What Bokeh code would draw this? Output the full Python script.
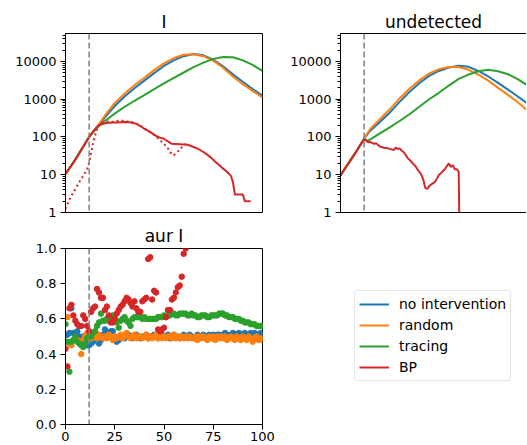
import numpy as np
from bokeh.plotting import figure
from bokeh.layouts import column, row
from bokeh.models import (FixedTicker, PrintfTickFormatter, Span, Legend, LegendItem,
                          LinearAxis, Range1d)
from bokeh.embed import file_html
from bokeh.resources import INLINE

FONT = "DejaVu Sans"
COLORS = ["#1f77b4", "#ff7f0e", "#2ca02c", "#d62728"]
NAMES = ["no intervention", "random", "tracing", "BP"]
INTERVENTION_T = 12

# ---------------- panel "I" ----------------
I_t = [0, 4, 8, 12, 16, 20, 25, 30, 35, 40, 45, 50, 55, 60, 65, 70, 75, 80, 85, 90, 95, 100]
I_none = [10.5, 21, 46, 100, 182, 330, 660, 1180, 1950, 3100, 4900, 7600, 10700, 13800,
          15800, 14500, 11200, 7400, 4600, 2900, 1860, 1250]
I_random = [10.5, 21, 46, 100, 186, 370, 800, 1400, 2350, 3700, 5900, 8900, 12300, 15100,
            15500, 13800, 10500, 6800, 4000, 2500, 1660, 1120]
I_tracing = [10.5, 21, 46, 100, 175, 265, 415, 630, 910, 1290, 1860, 2630, 3700, 5100,
             7100, 9300, 11700, 13200, 12900, 10700, 8100, 5600]
I_bp_t = [0, 2, 4, 6, 8, 10, 12, 14, 16, 18, 20, 22, 24, 26, 28, 30, 32, 34, 36, 38, 40,
          42, 44, 46, 48, 50, 52, 54, 56, 58, 60, 62, 64, 66, 68, 70, 72, 74, 76, 78, 80,
          82, 84, 85, 86, 90, 91, 94]
I_bp = [10.5, 15, 21, 30, 45, 67, 100, 140, 185, 215, 232, 238, 240, 242, 246, 250, 246,
        238, 222, 195, 165, 145, 125, 106, 96, 90, 76, 66, 65, 64, 63, 62, 57, 52, 46, 40,
        34, 28, 22, 18, 14.5, 12, 9.3, 6.3, 3, 3, 2, 2]
I_bp_dot_t = [0, 2, 4, 6, 8, 10, 11, 12, 13, 14, 15, 16, 17, 18, 20, 22, 24, 26, 28, 30,
              32, 34, 36, 38, 40, 42, 44, 46, 48, 50, 52, 54, 55, 56, 58, 60, 61]
I_bp_dot = [1.25, 2.2, 3.4, 5.2, 7.8, 11.5, 14, 21, 38, 68, 110, 160, 205, 240, 255, 258,
            252, 265, 275, 262, 255, 245, 225, 198, 170, 148, 125, 102, 82, 66, 50, 34, 33,
            37, 46, 60, 66]

# ---------------- panel "undetected" ----------------
U_t = [0, 4, 8, 12, 15, 20, 25, 30, 35, 40, 45, 50, 55, 60, 65, 70, 75, 80, 85, 90, 95, 100]
U_none = [9.6, 20, 42, 90, 145, 250, 440, 850, 1550, 2650, 4150, 5600, 6900, 7750, 7200,
          5600, 4000, 2700, 1800, 1180, 760, 500]
U_random = [9.6, 20, 42, 90, 160, 295, 540, 1050, 1900, 3150, 4800, 6200, 7100, 7100, 6000,
            4500, 3100, 2000, 1300, 830, 500, 316]
U_tr_t = [0, 4, 8, 12, 14, 16, 20, 25, 30, 35, 40, 45, 50, 55, 60, 65, 70, 75, 80, 85, 90,
          95, 100]
U_tracing = [9.6, 20, 42, 88, 80, 92, 125, 180, 265, 400, 630, 1000, 1480, 2300, 3450, 4500,
             5500, 6000, 5500, 4600, 3400, 2300, 1400]
U_bp_t = [0, 2, 4, 6, 8, 10, 11, 12, 13, 14, 15, 16, 17, 18, 19, 20, 22, 24, 26, 27, 28, 29,
          30, 31, 32, 33, 34, 35, 36, 37, 38, 39, 40, 41, 42, 43, 44, 45, 46, 47, 48, 49, 50,
          51, 52, 53, 54, 55, 56, 57, 58, 59, 60, 61]
U_bp = [9.6, 14, 20, 28, 40, 60, 72, 88, 80, 72, 74, 70, 66, 68, 62, 56, 52, 50, 47, 45, 52,
        48, 50, 44, 40, 34, 28, 25, 22, 19, 17, 14, 12, 10, 7.5, 4.5, 4.2, 5, 5.5, 6, 6.5, 8,
        10, 11, 12.5, 14, 17, 20, 16, 18, 14, 14, 12, 0]

# ---------------- panel "aur I" ----------------
A_t = list(range(0, 101))
A_none = [0.51, 0.51, 0.52, 0.66, 0.52, 0.51, 0.53, 0.50, 0.49, 0.50,
          0.47, 0.45, 0.45, 0.46, 0.47, 0.50, 0.49, 0.46, 0.48, 0.51,
          0.54, 0.52, 0.50, 0.53, 0.53, 0.48, 0.47, 0.48, 0.49, 0.50,
          0.49, 0.50, 0.51, 0.50, 0.49, 0.50, 0.51, 0.50, 0.49, 0.50,
          0.50, 0.51, 0.49, 0.50, 0.50, 0.51, 0.50, 0.49, 0.50, 0.51,
          0.50, 0.50, 0.51, 0.49, 0.50, 0.51, 0.50, 0.50, 0.49, 0.50,
          0.51, 0.50, 0.50, 0.51, 0.50, 0.49, 0.50, 0.51, 0.50, 0.50,
          0.51, 0.50, 0.50, 0.51, 0.50, 0.51, 0.50, 0.51, 0.51, 0.50,
          0.51, 0.52, 0.51, 0.50, 0.51, 0.52, 0.51, 0.51, 0.52, 0.51,
          0.51, 0.52, 0.51, 0.51, 0.52, 0.51, 0.52, 0.51, 0.51, 0.52, 0.51]
A_random = [0.47, 0.61, 0.46, 0.45, 0.48, 0.49, 0.48, 0.47, 0.40, 0.48,
            0.50, 0.52, 0.50, 0.49, 0.51, 0.50, 0.49, 0.51, 0.50, 0.49,
            0.50, 0.49, 0.51, 0.50, 0.48, 0.50, 0.49, 0.50, 0.51, 0.49,
            0.50, 0.52, 0.50, 0.49, 0.50, 0.51, 0.49, 0.50, 0.50, 0.49,
            0.50, 0.51, 0.49, 0.50, 0.49, 0.50, 0.51, 0.49, 0.50, 0.49,
            0.50, 0.49, 0.50, 0.50, 0.49, 0.51, 0.49, 0.50, 0.49, 0.50,
            0.49, 0.50, 0.49, 0.50, 0.49, 0.49, 0.50, 0.48, 0.50, 0.49,
            0.50, 0.49, 0.48, 0.50, 0.49, 0.50, 0.48, 0.50, 0.49, 0.50,
            0.49, 0.50, 0.48, 0.49, 0.50, 0.49, 0.48, 0.50, 0.49, 0.48,
            0.50, 0.49, 0.48, 0.50, 0.49, 0.47, 0.49, 0.50, 0.48, 0.49, 0.48]
A_tracing = [0.57, 0.47, 0.30, 0.47, 0.48, 0.50, 0.47, 0.46, 0.45, 0.44,
             0.46, 0.49, 0.50, 0.50, 0.52, 0.53, 0.56, 0.58, 0.63, 0.59,
             0.59, 0.60, 0.59, 0.60, 0.62, 0.60, 0.58, 0.55, 0.59, 0.60,
             0.61, 0.59, 0.58, 0.56, 0.60, 0.61, 0.61, 0.61, 0.61, 0.60,
             0.61, 0.60, 0.60, 0.60, 0.60, 0.60, 0.60, 0.61, 0.61, 0.61,
             0.62, 0.61, 0.62, 0.62, 0.63, 0.63, 0.62, 0.62, 0.63, 0.63,
             0.63, 0.63, 0.62, 0.62, 0.63, 0.62, 0.62, 0.61, 0.61, 0.62,
             0.62, 0.62, 0.61, 0.61, 0.62, 0.62, 0.62, 0.62, 0.63, 0.63,
             0.63, 0.62, 0.62, 0.61, 0.61, 0.61, 0.60, 0.60, 0.60, 0.59,
             0.59, 0.58, 0.58, 0.58, 0.57, 0.57, 0.57, 0.56, 0.56, 0.56, 0.56]
A_bp_t = list(range(0, 62))
A_bp = [0.43, 0.33, 0.66, 0.68, 0.62, 0.59, 0.57, 0.56, 0.56, 0.62,
        0.60, 0.56, 0.53, 0.64, 0.66, 0.67, 0.77, 0.75, 0.72, 0.72,
        0.65, 0.67, 0.62, 0.58, 0.58, 0.60, 0.63, 0.65, 0.67, 0.68,
        0.70, 0.72, 0.71, 0.69, 0.67, 0.70, 0.66, 0.64, 0.64, 0.70,
        0.71, 0.72, 0.94, 0.95, 0.71, 0.76, 0.75, 0.54, 0.53, 0.54,
        0.55, 0.61, 0.65, 0.65, 0.71, 0.72, 0.75, 0.78, 0.79, 0.84,
        0.97, 1.00]

LOG_MAJOR = [1, 10, 100, 1000, 10000]
LOG_TOP = 55000


def log_minor():
    return [m * 10 ** k for k in range(5) for m in range(2, 10) if m * 10 ** k <= LOG_TOP]


def style_axis(ax, minor=False):
    ax.axis_line_color = "black"
    ax.axis_line_width = 1
    ax.major_tick_line_color = "black"
    ax.major_tick_out = 5
    ax.major_tick_in = 0
    if minor:
        ax.minor_tick_line_color = "black"
        ax.minor_tick_out = 3
        ax.minor_tick_in = 0
    else:
        ax.minor_tick_line_color = None
    ax.major_label_text_font = FONT
    ax.major_label_text_font_size = "13px"
    ax.major_label_text_color = "black"
    ax.major_label_standoff = 4


def style_title(p, standoff):
    p.title.text_font = FONT
    p.title.text_font_size = "17px"
    p.title.text_font_style = "normal"
    p.title.text_color = "black"
    p.title.align = "center"
    p.title.standoff = standoff


def make_fig(title, fw, fh, x_end, log, mbr, mbt, mbb, tstand=4):
    kw = dict(frame_width=fw, frame_height=fh, x_range=Range1d(0, x_end),
              min_border_left=65, min_border_right=mbr, min_border_top=mbt,
              min_border_bottom=mbb, toolbar_location=None, output_backend="svg",
              title=title, background_fill_color="white", border_fill_color="white")
    if log:
        kw["y_axis_type"] = "log"
        kw["y_range"] = Range1d(1, LOG_TOP)
    else:
        kw["y_range"] = Range1d(0, 1)
    p = figure(**kw)
    p.grid.visible = False
    p.outline_line_color = "black"
    p.outline_line_width = 1
    style_title(p, tstand)
    return p


def vline(p):
    p.add_layout(Span(location=INTERVENTION_T, dimension="height", line_color="#808080",
                      line_dash="6 3", line_width=1.5))


# ---- figure 1: I ----
p1 = make_fig("I", 197, 179, 100, True, 13, 33, 8)
p1.xaxis.visible = False
p1.yaxis.ticker = FixedTicker(ticks=LOG_MAJOR, minor_ticks=log_minor())
p1.yaxis.formatter = PrintfTickFormatter(format="%d")
style_axis(p1.yaxis[0], minor=True)
p1.line(I_t, I_none, color=COLORS[0], line_width=2)
p1.line(I_t, I_random, color=COLORS[1], line_width=2)
p1.line(I_t, I_tracing, color=COLORS[2], line_width=2)
p1.line(I_bp_t, I_bp, color=COLORS[3], line_width=2)
p1.line(I_bp_dot_t, I_bp_dot, color=COLORS[3], line_width=2, line_dash="2 3")
vline(p1)

# ---- figure 2: undetected ----
p2 = make_fig("undetected", 186, 179, 186 / 1.97, True, 0, 33, 8)
p2.outline_line_color = None
p2.yaxis.ticker = FixedTicker(ticks=LOG_MAJOR, minor_ticks=log_minor())
p2.yaxis.formatter = PrintfTickFormatter(format="%d")
style_axis(p2.yaxis[0], minor=True)
xa = p2.xaxis[0]
xa.ticker = FixedTicker(ticks=[])
xa.major_tick_out = 0
xa.minor_tick_out = 0
xa.major_label_standoff = 0
xa.axis_line_color = "black"
top = LinearAxis(ticker=FixedTicker(ticks=[]), major_tick_out=0, minor_tick_out=0,
                 major_tick_in=0, minor_tick_in=0, major_label_standoff=0,
                 axis_line_color="black")
p2.add_layout(top, "above")
u_bp = np.array(U_bp, dtype=float)
u_bp_plot = np.where(u_bp > 0, u_bp, 1e-3)  # log-scale clipping of zero counts
p2.line(U_t, U_none, color=COLORS[0], line_width=2)
p2.line(U_t, U_random, color=COLORS[1], line_width=2)
p2.line(U_tr_t, U_tracing, color=COLORS[2], line_width=2)
p2.line(U_bp_t, u_bp_plot, color=COLORS[3], line_width=2)
vline(p2)

# ---- figure 3: aur I ----
p3 = make_fig("aur I", 197, 176, 100, False, 13, 26, 22, tstand=6)
p3.xaxis.ticker = FixedTicker(ticks=[0, 25, 50, 75, 100])
p3.xaxis.formatter = PrintfTickFormatter(format="%d")
p3.yaxis.ticker = FixedTicker(ticks=[0, 0.2, 0.4, 0.6, 0.8, 1.0])
p3.yaxis.formatter = PrintfTickFormatter(format="%.1f")
style_axis(p3.xaxis[0])
style_axis(p3.yaxis[0])
p3.xaxis.major_label_standoff = 2
for xs, ys, c in [(A_t, A_none, COLORS[0]), (A_t, A_random, COLORS[1]),
                  (A_t, A_tracing, COLORS[2]), (A_bp_t, A_bp, COLORS[3])]:
    p3.scatter(xs, ys, size=5.5, color=c)
vline(p3)

# ---- legend panel ----
pl = figure(width=250, height=225, min_border=0, toolbar_location=None,
            output_backend="svg", x_range=Range1d(0, 1), y_range=Range1d(0, 1),
            x_axis_type=None, y_axis_type=None)
pl.grid.visible = False
pl.outline_line_color = None
items = []
for name, c in zip(NAMES, COLORS):
    # legend proxy lines, placed outside the visible range
    r = pl.line(x=[2, 3], y=[2, 2], color=c, line_width=2)
    items.append(LegendItem(label=name, renderers=[r]))
leg = Legend(items=items, location=(79, 42), glyph_width=30, glyph_height=18,
             label_height=18, label_standoff=10, spacing=3, padding=4, margin=0,
             label_text_font=FONT, label_text_font_size="14px", label_text_color="black",
             border_line_color="#cccccc", border_line_width=1, border_radius=3,
             background_fill_color="white", background_fill_alpha=0.8)
pl.add_layout(leg)

layout = column(row(p1, p2), row(p3, pl))
open("out.html", "w").write(file_html(layout, INLINE))
